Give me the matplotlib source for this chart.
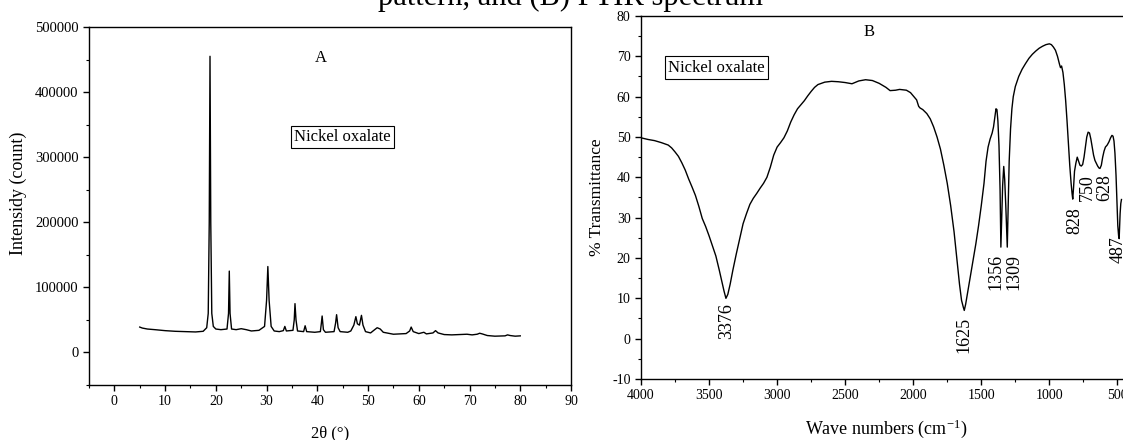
import matplotlib
matplotlib.use("Agg")
import matplotlib.pyplot as plt
from matplotlib.ticker import MultipleLocator

plt.rcParams['font.family'] = ['Liberation Serif', 'DejaVu Serif']
plt.rcParams['mathtext.fontset'] = 'stix'
plt.rcParams['axes.unicode_minus'] = False

# XRD pattern (A): (2-theta in deg, intensity in counts)
xrd_points = [
    (5.0, 39000), (5.5, 37500), (6.5, 36000), (8, 35000), (10, 33500), (12, 32500),
    (14, 32000), (16, 31500), (17.5, 32500), (18.2, 38000), (18.5, 60000),
    (18.7, 200000), (18.85, 455000), (19.0, 200000), (19.2, 60000), (19.5, 40000),
    (20, 36000), (21, 35000), (22.2, 36000), (22.5, 60000), (22.65, 125000),
    (22.8, 60000), (23.1, 36000), (24, 35000), (25, 36500), (26, 35000), (27, 33000),
    (28.5, 34000), (29.6, 40000), (30.0, 80000), (30.25, 132000), (30.5, 80000),
    (30.9, 40000), (31.5, 33000), (32.5, 32000), (33.3, 33500), (33.6, 40000),
    (33.9, 33000), (35.2, 34000), (35.45, 50000), (35.6, 75000), (35.8, 50000),
    (36.1, 33000), (37.3, 32000), (37.6, 41000), (37.9, 32000), (39.5, 31000),
    (40.6, 32000), (40.8, 45000), (40.95, 56000), (41.2, 35000), (41.6, 31000),
    (43.3, 32000), (43.6, 45000), (43.8, 58000), (44.1, 38000), (44.5, 32000),
    (46, 31000), (46.6, 33000), (47.2, 42000), (47.6, 55000), (47.9, 44000),
    (48.3, 42000), (48.7, 57000), (49.0, 42000), (49.5, 32000), (50.5, 30000),
    (51.3, 35000), (51.8, 38000), (52.4, 36000), (53, 31000), (55, 28000),
    (57.5, 29000), (58.2, 33000), (58.5, 39000), (58.9, 32000), (60, 29000),
    (61.0, 31000), (61.5, 28500), (62.8, 30000), (63.3, 33500), (63.8, 30000),
    (65, 27500), (66.5, 27000), (68, 27500), (69.5, 28000), (70.5, 27000),
    (71.5, 28000), (72, 29500), (72.5, 28500), (73.5, 26000), (75, 25000),
    (77, 25500), (77.5, 27000), (78, 26000), (79, 25000), (80, 25500),
]
xrd_theta = [p[0] for p in xrd_points]
xrd_counts = [p[1] for p in xrd_points]

# FTIR spectrum (B): (wavenumber in cm-1, transmittance in %)
ir_points = [
    (4000, 49.8), (3950, 49.4), (3900, 49.1), (3850, 48.6), (3800, 48.0), (3775, 47.3),
    (3750, 46.3), (3725, 45.2), (3700, 43.6), (3675, 41.8), (3650, 39.6), (3625, 37.6),
    (3600, 35.5), (3575, 32.8), (3550, 29.8), (3525, 27.8), (3500, 25.5), (3475, 23.0),
    (3450, 20.5), (3425, 17.0), (3405, 14.0), (3390, 11.8), (3376, 10.0), (3362, 11.0),
    (3345, 13.5), (3325, 17.0), (3300, 21.0), (3275, 24.8), (3250, 28.5), (3225, 31.0),
    (3200, 33.3), (3175, 34.8), (3150, 36.0), (3125, 37.3), (3100, 38.5), (3075, 40.0),
    (3050, 42.5), (3025, 45.5), (3000, 47.5), (2975, 48.6), (2950, 49.8), (2925, 51.5),
    (2900, 53.7), (2875, 55.5), (2850, 57.0), (2825, 58.0), (2800, 59.0), (2775, 60.2),
    (2750, 61.3), (2725, 62.3), (2700, 63.0), (2650, 63.6), (2600, 63.8), (2550, 63.7),
    (2500, 63.5), (2450, 63.2), (2400, 63.9), (2350, 64.2), (2300, 64.0), (2250, 63.3),
    (2200, 62.3), (2170, 61.5), (2130, 61.6), (2100, 61.8), (2050, 61.6), (2020, 61.0),
    (2000, 60.2), (1975, 59.2), (1960, 57.6), (1950, 57.2), (1930, 56.8), (1900, 55.8),
    (1875, 54.5), (1850, 52.5), (1825, 50.0), (1800, 47.0), (1775, 43.0), (1750, 38.5),
    (1725, 33.0), (1700, 26.5), (1680, 20.0), (1660, 13.5), (1645, 9.5), (1632, 7.8),
    (1625, 7.0), (1615, 8.5), (1600, 11.5), (1580, 15.5), (1560, 19.5), (1540, 23.5),
    (1520, 28.0), (1500, 33.0), (1480, 38.5), (1465, 44.0), (1450, 47.5), (1435, 49.5),
    (1420, 51.0), (1410, 52.5), (1400, 55.0), (1392, 57.0), (1385, 56.8), (1378, 54.0),
    (1370, 48.0), (1362, 37.0), (1356, 22.7), (1350, 30.0), (1343, 38.0), (1335, 42.7),
    (1328, 39.5), (1320, 33.0), (1314, 27.0), (1309, 22.7), (1303, 32.0), (1295, 44.0),
    (1285, 52.0), (1275, 57.0), (1265, 60.0), (1250, 62.5), (1225, 65.0), (1200, 66.8),
    (1175, 68.2), (1150, 69.5), (1125, 70.5), (1100, 71.3), (1075, 72.0), (1050, 72.5),
    (1025, 72.9), (1000, 73.1), (985, 72.9), (970, 72.3), (955, 71.5), (940, 70.0),
    (925, 68.0), (918, 67.2), (910, 67.6), (900, 66.0), (890, 63.0), (880, 59.0),
    (870, 54.0), (860, 48.5), (850, 43.0), (840, 38.5), (833, 36.0), (828, 34.6),
    (822, 37.5), (815, 41.5), (805, 43.5), (795, 45.0), (785, 44.0), (775, 43.0),
    (765, 42.8), (755, 43.2), (745, 45.0), (735, 47.5), (725, 50.0), (715, 51.2),
    (705, 51.0), (695, 49.5), (685, 47.5), (675, 45.5), (665, 44.2), (655, 43.5),
    (645, 42.8), (635, 42.3), (628, 42.2), (618, 43.0), (608, 45.0), (598, 46.5),
    (588, 47.5), (575, 48.0), (562, 48.8), (550, 49.8), (540, 50.4), (532, 50.2),
    (525, 49.0), (518, 46.0), (510, 40.5), (503, 34.0), (497, 28.0), (491, 25.5),
    (487, 24.8), (484, 27.5), (480, 31.0), (475, 33.5), (470, 34.5),
]
ir_wn = [p[0] for p in ir_points]
ir_trans = [p[1] for p in ir_points]

# band labels: text, x, top of text
band_labels = ['3376', '1625', '1356', '1309', '828', '750', '628', '487']
band_x = [3370, 1625, 1395, 1262, 815, 718, 590, 498]
band_top = [8.8, 5.5, 21.0, 21.0, 32.5, 40.8, 40.8, 25.5]

fig = plt.figure(figsize=(11.23, 4.4), dpi=100)

fig.text(0.508, 1 - 5.5 / 440, 'pattern, and (B) FTIR spectrum', ha='center',
         va='baseline', fontsize=22)

# ---- panel A: XRD ----
axA = fig.add_axes([89 / 1123, 1 - 385 / 440, (571 - 89) / 1123, (385 - 27) / 440])
axA.plot(xrd_theta, xrd_counts, color='black', linewidth=1.0)
axA.set_xlim(-5, 90)
axA.set_ylim(-50000, 500000)
axA.xaxis.set_major_locator(MultipleLocator(10))
axA.xaxis.set_minor_locator(MultipleLocator(5))
axA.yaxis.set_major_locator(MultipleLocator(100000))
axA.yaxis.set_minor_locator(MultipleLocator(50000))
axA.set_xlabel('2θ (°)', fontsize=12, labelpad=12)
axA.set_ylabel('Intensidy (count)', fontsize=13)
axA.yaxis.set_label_coords(-0.128, 0.536)
axA.text(40.6, 453000, 'A', ha='center', va='center', fontsize=12)
axA.text(45, 331000, 'Nickel oxalate', ha='center', va='center', fontsize=12,
         bbox=dict(boxstyle='square,pad=0.2', facecolor='white', edgecolor='black', linewidth=0.8))

# ---- panel B: FTIR ----
axB = fig.add_axes([641 / 1123, 1 - 379 / 440, (1131 - 641) / 1123, (379 - 16) / 440])
axB.plot(ir_wn, ir_trans, color='black', linewidth=1.0)
axB.set_xlim(4000, 400)
axB.set_ylim(-10, 80)
axB.xaxis.set_major_locator(MultipleLocator(500))
axB.xaxis.set_minor_locator(MultipleLocator(250))
axB.yaxis.set_major_locator(MultipleLocator(10))
axB.yaxis.set_minor_locator(MultipleLocator(5))
axB.set_xlabel('Wave numbers (cm$^{\\mathregular{-1}}$)', fontsize=13, labelpad=11)
axB.set_ylabel('% Transmittance', fontsize=12.5, labelpad=5)
axB.text(2324, 76, 'B', ha='center', va='center', fontsize=12)
axB.text(3445, 67.2, 'Nickel oxalate', ha='center', va='center', fontsize=12,
         bbox=dict(boxstyle='square,pad=0.2', facecolor='white', edgecolor='black', linewidth=0.8))
for lab, x, top in zip(band_labels, band_x, band_top):
    axB.text(x, top, lab, rotation=90, ha='center', va='top', fontsize=13)

for ax in (axA, axB):
    for sp in ax.spines.values():
        sp.set_linewidth(1.0)
    ax.tick_params(which='major', direction='out', length=4, width=1.0, labelsize=10)
    ax.tick_params(which='minor', direction='out', length=2.5, width=0.8)
axA.tick_params(axis='y', labelsize=10.5)

fig.savefig('out.png', dpi=100)
